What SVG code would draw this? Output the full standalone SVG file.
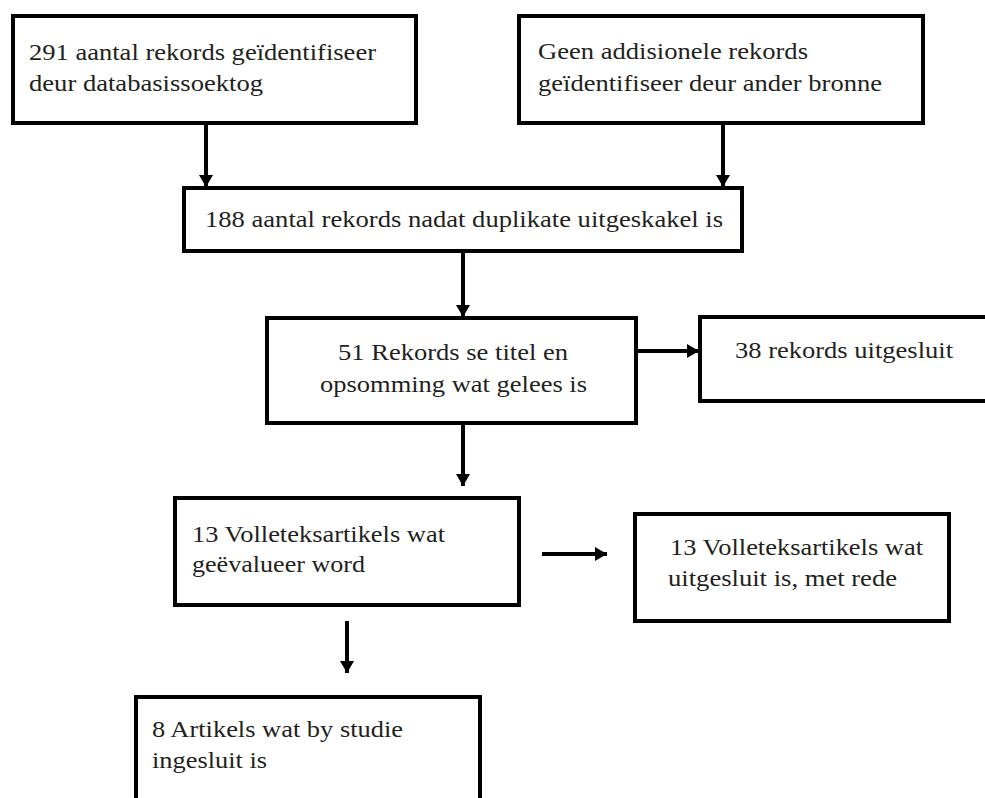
<svg xmlns="http://www.w3.org/2000/svg" width="985" height="798" viewBox="0 0 985 798">
<defs>
<style>
.box{fill:#fff;stroke:#000;stroke-width:4}
.ln{stroke:#000;stroke-width:4;fill:none}
text{font-family:'Liberation Serif','DejaVu Serif','Noto Serif',serif;font-size:24px;fill:#231f20}
</style>
<marker id="ah" markerUnits="userSpaceOnUse" markerWidth="14" markerHeight="14" refX="12" refY="7" orient="auto">
<path d="M0,0 L12,7 L0,14 z" fill="#000"/>
</marker>
</defs>
<rect width="985" height="798" fill="#fff"/>
<g id="connectors">
<line class="ln" x1="206" y1="123" x2="206" y2="187" marker-end="url(#ah)"/>
<line class="ln" x1="723" y1="123" x2="723" y2="187" marker-end="url(#ah)"/>
<line class="ln" x1="463" y1="251" x2="463" y2="317" marker-end="url(#ah)"/>
<line class="ln" x1="636" y1="351" x2="699" y2="351" marker-end="url(#ah)"/>
<line class="ln" x1="463" y1="423" x2="463" y2="486" marker-end="url(#ah)"/>
<line class="ln" x1="542" y1="554" x2="607" y2="554" marker-end="url(#ah)"/>
<line class="ln" x1="347" y1="621" x2="347" y2="673" marker-end="url(#ah)"/>
</g>
<g id="n1">
<rect class="box" x="13" y="16" width="403" height="107"/>
<text x="29" y="60" textLength="347" lengthAdjust="spacingAndGlyphs">291 aantal rekords geïdentifiseer</text>
<text x="29" y="91" textLength="234" lengthAdjust="spacingAndGlyphs">deur databasissoektog</text>
</g>
<g id="n2">
<rect class="box" x="519" y="16" width="404" height="107"/>
<text x="538" y="59" textLength="270" lengthAdjust="spacingAndGlyphs">Geen addisionele rekords</text>
<text x="538" y="91" textLength="344" lengthAdjust="spacingAndGlyphs">geïdentifiseer deur ander bronne</text>
</g>
<g id="n3">
<rect class="box" x="184" y="188" width="558" height="63"/>
<text x="205" y="227" textLength="518" lengthAdjust="spacingAndGlyphs">188 aantal rekords nadat duplikate uitgeskakel is</text>
</g>
<g id="n4">
<rect class="box" x="267" y="318" width="369" height="105"/>
<text x="338" y="360" textLength="230" lengthAdjust="spacingAndGlyphs">51 Rekords se titel en</text>
<text x="320" y="392" textLength="267" lengthAdjust="spacingAndGlyphs">opsomming wat gelees is</text>
</g>
<g id="n5">
<rect class="box" x="700" y="317" width="300" height="84"/>
<text x="735" y="358" textLength="218" lengthAdjust="spacingAndGlyphs">38 rekords uitgesluit</text>
</g>
<g id="n6">
<rect class="box" x="175" y="498" width="344" height="107"/>
<text x="192" y="542" textLength="253" lengthAdjust="spacingAndGlyphs">13 Volleteksartikels wat</text>
<text x="192" y="572" textLength="173" lengthAdjust="spacingAndGlyphs">geëvalueer word</text>
</g>
<g id="n7">
<rect class="box" x="635" y="514" width="314" height="107"/>
<text x="670" y="555" textLength="253" lengthAdjust="spacingAndGlyphs">13 Volleteksartikels wat</text>
<text x="668" y="586" textLength="229" lengthAdjust="spacingAndGlyphs">uitgesluit is, met rede</text>
</g>
<g id="n8">
<rect class="box" x="136" y="697" width="344" height="110"/>
<text x="152" y="737" textLength="251" lengthAdjust="spacingAndGlyphs">8 Artikels wat by studie</text>
<text x="152" y="768" textLength="115" lengthAdjust="spacingAndGlyphs">ingesluit is</text>
</g>
</svg>
